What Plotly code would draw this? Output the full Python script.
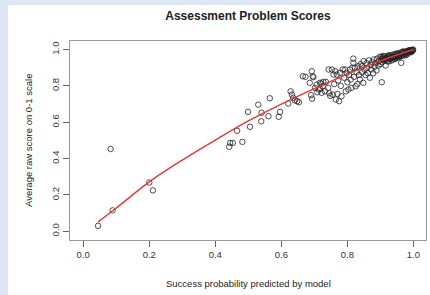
import plotly.graph_objects as go

# Scatter data: (predicted probability, observed average score)
pred = [0.045, 0.083, 0.089, 0.200, 0.211,
        0.442, 0.445, 0.453, 0.482, 0.466, 0.499, 0.505, 0.530, 0.540, 0.539, 0.561, 0.565,
        0.592, 0.596, 0.621, 0.628, 0.632, 0.636, 0.641, 0.648, 0.653, 0.665, 0.673, 0.692,
        0.695, 0.686, 0.690, 0.693,
        0.697, 0.702, 0.707, 0.709, 0.713, 0.717, 0.717, 0.721, 0.722, 0.725, 0.727, 0.732,
        0.735, 0.742, 0.743, 0.745, 0.748, 0.753, 0.755, 0.758, 0.760, 0.763, 0.765, 0.768,
        0.770, 0.772, 0.775, 0.778, 0.780, 0.782, 0.786, 0.790, 0.793, 0.795, 0.798, 0.800,
        0.803, 0.805, 0.808, 0.810, 0.812, 0.815, 0.818, 0.818, 0.820, 0.823, 0.825, 0.828,
        0.830, 0.833, 0.835, 0.838, 0.840, 0.844, 0.845, 0.848, 0.849, 0.852, 0.855, 0.858,
        0.860, 0.862, 0.865, 0.868, 0.870, 0.872, 0.875, 0.878, 0.880, 0.882, 0.885, 0.888,
        0.890, 0.894, 0.895, 0.898, 0.900, 0.904,
        0.902, 0.905, 0.908, 0.910, 0.912, 0.914, 0.916, 0.918, 0.920, 0.922, 0.924, 0.926,
        0.928, 0.930, 0.932, 0.934, 0.936, 0.938, 0.940, 0.942, 0.944, 0.946, 0.948, 0.950,
        0.952, 0.954, 0.956, 0.958, 0.960, 0.962, 0.963, 0.964, 0.966, 0.968, 0.970, 0.972,
        0.974, 0.976, 0.978, 0.980, 0.982, 0.984, 0.986, 0.988, 0.990, 0.992, 0.994, 0.996,
        0.998, 0.999, 0.997, 0.993, 0.989, 0.985, 0.981, 0.977, 0.973, 0.969, 0.965, 0.961,
        0.957, 0.953, 0.949, 0.945, 0.941, 0.937, 0.933, 0.929, 0.925, 0.921, 0.917, 0.913,
        0.909, 0.906, 0.903]
score = [0.030, 0.453, 0.115, 0.268, 0.225,
         0.465, 0.486, 0.486, 0.492, 0.553, 0.657, 0.575, 0.697, 0.652, 0.605, 0.633, 0.732,
         0.630, 0.657, 0.703, 0.770, 0.752, 0.734, 0.720, 0.716, 0.710, 0.853, 0.850, 0.881,
         0.853, 0.817, 0.749, 0.730,
         0.848, 0.789, 0.807, 0.765, 0.780, 0.817, 0.784, 0.813, 0.762, 0.798, 0.822, 0.770,
         0.822, 0.789, 0.890, 0.760, 0.745, 0.890, 0.752, 0.862, 0.810, 0.881, 0.725, 0.862,
         0.756, 0.830, 0.716, 0.872, 0.800, 0.743, 0.890, 0.845, 0.890, 0.770, 0.872, 0.820,
         0.780, 0.860, 0.890, 0.835, 0.789, 0.900, 0.950, 0.927, 0.850, 0.900, 0.798, 0.875,
         0.810, 0.908, 0.860, 0.835, 0.920, 0.908, 0.875, 0.817, 0.936, 0.890, 0.860, 0.925,
         0.900, 0.870, 0.940, 0.845, 0.915, 0.890, 0.930, 0.870, 0.945, 0.905, 0.925, 0.885,
         0.950, 0.912, 0.935, 0.960, 0.920, 0.820,
         0.945, 0.930, 0.955, 0.940, 0.962, 0.948, 0.912, 0.958, 0.945, 0.965, 0.950, 0.935,
         0.960, 0.968, 0.952, 0.940, 0.972, 0.958, 0.965, 0.950, 0.975, 0.962, 0.955, 0.970,
         0.978, 0.965, 0.958, 0.975, 0.982, 0.970, 0.927, 0.965, 0.978, 0.985, 0.975, 0.968,
         0.985, 0.978, 0.990, 0.982, 0.975, 0.990, 0.985, 0.992, 0.988, 0.995, 0.990, 0.998,
         0.995, 1.000, 0.993, 0.985, 0.997, 0.995, 0.990, 0.970, 0.980, 0.990, 0.985, 0.962,
         0.968, 0.960, 0.978, 0.948, 0.958, 0.945, 0.962, 0.950, 0.968, 0.935, 0.952, 0.940,
         0.965, 0.948, 0.960]

# Smoothed (loess) fit curve
fit_x = [0.045, 0.10, 0.20, 0.30, 0.40, 0.50, 0.60, 0.70, 0.80, 0.90, 1.00]
fit_y = [0.052, 0.128, 0.272, 0.392, 0.502, 0.607, 0.700, 0.785, 0.865, 0.938, 1.000]

tick_vals = [0.0, 0.2, 0.4, 0.6, 0.8, 1.0]
tick_text = ["0.0", "0.2", "0.4", "0.6", "0.8", "1.0"]

FONT = "Liberation Sans, Arial, sans-serif"

fig = go.Figure()
fig.add_trace(go.Scatter(
    x=pred, y=score, mode="markers",
    marker=dict(symbol="circle-open", size=5.5, color="#222222", line=dict(width=0.8)),
    showlegend=False, hoverinfo="x+y"))
fig.add_trace(go.Scatter(
    x=fit_x, y=fit_y, mode="lines", line=dict(color="#ee3333", width=1.4, shape="spline"),
    showlegend=False))

axis_common = dict(
    tickvals=tick_vals, ticktext=tick_text, ticks="outside", ticklen=6, tickwidth=1,
    tickcolor="#666666", showgrid=False, zeroline=False, showline=True, mirror=True,
    linecolor="#9a9a9a", linewidth=1, tickfont=dict(family=FONT, size=9.5, color="#333333"))

fig.update_layout(
    width=430, height=295,
    margin=dict(l=70, r=4, t=41, b=55),
    paper_bgcolor="#dde8f4", plot_bgcolor="white",
    title=dict(text="<b>Assessment Problem Scores</b>", x=248/430, xanchor="center",
               y=1 - 15.7/295, yanchor="middle",
               font=dict(family=FONT, size=12, color="#222222")),
    xaxis=dict(range=[-0.040, 1.038], **axis_common),
    yaxis=dict(range=[-0.048, 1.047], tickangle=-90, **axis_common),
    shapes=[dict(type="rect", xref="paper", yref="paper", x0=(8-70)/356, x1=1.02,
                 y0=-0.3, y1=(240-5)/199, fillcolor="white", line=dict(width=0),
                 layer="below")],
    annotations=[
        dict(text="Success probability predicted by model", xref="paper", yref="paper",
             x=0.5, y=(240-283)/199, xanchor="center", yanchor="middle", showarrow=False,
             font=dict(family=FONT, size=9.5, color="#222222")),
        dict(text="Average raw score on 0-1 scale", xref="paper", yref="paper",
             x=(28-70)/356, y=(240-141)/199, xanchor="center", yanchor="middle",
             textangle=-90, showarrow=False,
             font=dict(family=FONT, size=9.5, color="#222222")),
    ],
)

fig.write_html("out.html",
               config={"displayModeBar": False},
               post_script="document.body.style.margin='0';"
                           "document.body.style.background='#dde8f4';")
